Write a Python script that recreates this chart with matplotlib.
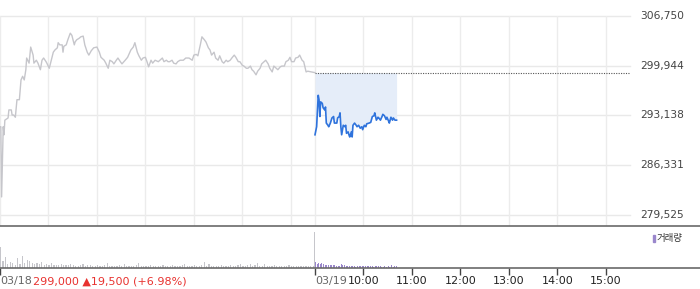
import matplotlib
matplotlib.use("Agg")
import matplotlib.pyplot as plt
from matplotlib.lines import Line2D
import numpy as np

plt.rcParams["font.family"] = ["DejaVu Sans", "Noto Sans CJK KR"]

# price data: minutes since 03/18 09:00 (day 2 starts at 390)
d1_min = [0, 1, 2, 4, 5, 6, 10, 11, 14, 15, 17, 19, 21, 24, 26, 28, 30, 32, 33, 36,
          38, 41, 42, 45, 47, 50, 52, 54, 57, 58, 61, 63, 66, 68, 71, 72, 74, 77, 78, 79,
          82, 84, 87, 89, 92, 93, 95, 98, 100, 103, 105, 108, 110, 113, 116, 120, 123, 125, 129, 131,
          134, 136, 139, 141, 144, 146, 149, 151, 155, 158, 162, 165, 167, 170, 172, 175, 177, 180, 182, 184,
          187, 189, 192, 196, 198, 201, 203, 206, 208, 210, 213, 215, 218, 220, 223, 227, 230, 234, 238, 240,
          243, 245, 248, 250, 253, 255, 258, 260, 262, 265, 267, 270, 272, 275, 277, 280, 282, 285, 287, 290,
          292, 295, 297, 300, 302, 305, 307, 310, 312, 314, 317, 319, 322, 324, 327, 329, 332, 334, 337, 339,
          342, 344, 347, 349, 352, 354, 357, 359, 361, 364, 366, 369, 371, 374, 376, 379, 381, 390]
d1_price = [291600, 291600, 282000, 291600, 290500, 292500, 292800, 293900, 293900, 293200,
            293200, 292900, 295300, 295300, 298000, 298500, 298000, 299400, 301000, 300300,
            302500, 301400, 300300, 300700, 300300, 299400, 300700, 301000, 300500, 300300,
            299600, 300500, 301800, 302100, 302400, 303100, 302800, 302800, 301800, 302600,
            302800, 303500, 304400, 304100, 302800, 303200, 303500, 303700, 303900, 304000,
            302800, 301800, 301400, 302000, 302400, 302500, 301800, 301100, 300700, 300300,
            299600, 300700, 300500, 300200, 300700, 301000, 300500, 300200, 300700, 301100,
            302100, 302500, 303100, 301800, 301300, 300700, 301000, 301100, 300500, 299800,
            300700, 300300, 300700, 300500, 300700, 301000, 300500, 300700, 300500, 300500,
            300700, 300300, 300200, 300500, 300700, 300700, 301000, 301000, 300700, 301400,
            301500, 301300, 302800, 303900, 303500, 303200, 302400, 302100, 301400, 301800,
            301000, 300700, 301300, 300500, 300300, 300700, 300500, 300700, 301000, 301400,
            301100, 300500, 300500, 300000, 299900, 299600, 299600, 299900, 299400, 299200,
            298700, 299200, 299600, 300200, 300500, 300700, 300200, 299600, 299100, 299900,
            299600, 299400, 299800, 299900, 299900, 300500, 300700, 301100, 300500, 300500,
            301000, 301100, 301400, 300700, 300500, 299100, 299200, 299000]

d2_min = [390, 392, 394, 395, 396, 397, 399, 400, 402, 403, 404, 406, 407, 409, 411, 413, 414, 416, 417, 418,
          420, 421, 422, 423, 425, 427, 428, 429, 431, 432, 433, 435, 436, 437, 439, 441, 442, 444, 446, 448,
          449, 451, 453, 454, 457, 459, 461, 463, 464, 466, 468, 469, 471, 473, 474, 476, 478, 479, 481, 482,
          484, 486, 487, 489, 491]
d2_price = [290500, 291600, 295900, 295300, 293000, 295000, 294800, 294200, 293900, 294300,
            292100, 291800, 291600, 292100, 292800, 293000, 292100, 292100, 292100, 292800,
            293000, 293500, 291600, 290500, 291800, 291600, 291800, 290700, 290900, 290500,
            290200, 290900, 290200, 291800, 292100, 291800, 291600, 291800, 291400, 291600,
            291200, 291800, 291600, 292000, 292100, 292200, 293000, 293100, 293500, 292500,
            292900, 292800, 292500, 293000, 293300, 293100, 292600, 292900, 292400, 292100,
            292900, 292500, 292800, 292500, 292500]

prev_close = 299000
y_ticks = [279525, 286331, 293138, 299944, 306750]

# volume, 3-minute slots on day 1, 2-minute slots on day 2
vol1 = [50, 17, 26, 10, 14, 12, 8, 24, 10, 29,
        12, 20, 17, 12, 10, 12, 10, 14, 7, 10,
        8, 12, 7, 6, 7, 10, 6, 7, 6, 10,
        6, 5, 5, 6, 10, 5, 6, 7, 5, 5,
        6, 5, 5, 7, 12, 5, 4, 5, 4, 6,
        5, 10, 4, 5, 5, 4, 6, 12, 5, 4,
        5, 5, 6, 4, 5, 5, 4, 6, 5, 4,
        5, 7, 4, 5, 5, 6, 10, 5, 4, 5,
        6, 4, 5, 6, 14, 5, 10, 4, 5, 5,
        4, 6, 5, 4, 5, 8, 5, 4, 6, 9,
        5, 4, 6, 9, 5, 6, 12, 5, 4, 9,
        5, 5, 4, 6, 5, 4, 5, 5, 4, 6,
        5, 4, 5, 4, 5, 4, 4, 5, 4, 5]
vol1_close = 86
vol2 = [14, 10, 12, 10, 11, 10, 8, 7, 7, 6,
        7, 6, 6, 5, 5, 5, 10, 6, 6, 5,
        5, 4, 5, 5, 4, 3, 4, 5, 5, 4,
        5, 4, 5, 4, 5, 4, 3, 5, 4, 5,
        4, 3, 3, 4, 3, 4, 3, 7, 3, 4, 5]

tick_pos = [0, 390, 450, 510, 570, 630, 690, 750]
tick_labels = ["03/18", "03/19", "10:00", "11:00", "12:00", "13:00", "14:00", "15:00"]
grid_x = [0, 60, 120, 180, 240, 300, 360, 390, 450, 510, 570, 630, 690, 750]

W, H = 700, 289
fig = plt.figure(figsize=(7, 2.89), dpi=100)

ax = fig.add_axes([0, (H - 226) / H, 630 / W, (226 - 16) / H])
ax.set_xlim(0, 780)
ax.set_ylim(278020, 306750)
for s in ax.spines.values():
    s.set_visible(False)
ax.set_xticks([])
ax.set_yticks([])

for y in y_ticks:
    ax.axhline(y, color="#e9e9e9", lw=1, clip_on=False, zorder=0)
    ax.text(1.016, y, f"{y:,}", transform=ax.get_yaxis_transform(),
            ha="left", va="center", fontsize=7.7, color="#444444")
for x in grid_x:
    ax.axvline(x, color="#ececec", lw=1, zorder=0)

ax.fill_between(d2_min, d2_price, prev_close, color="#e5edf9", lw=0, zorder=1)
ax.plot([390, 780], [prev_close, prev_close], color="#555555", lw=0.8,
        linestyle=(0, (1, 1.2)), zorder=2)
ax.plot(d1_min, d1_price, color="#c6c6cb", lw=1.0, zorder=3)
ax.plot(d2_min, d2_price, color="#2f73dc", lw=1.2, zorder=4)

# volume panel
axv = fig.add_axes([0, (H - 268) / H, 630 / W, (268 - 226) / H])
axv.set_xlim(0, 780)
axv.set_ylim(0, 100)
for s in axv.spines.values():
    s.set_visible(False)
axv.set_yticks([])

x1 = np.arange(len(vol1)) * 3
x2 = 390 + np.arange(len(vol2)) * 2
axv.bar(x1, vol1, width=1.5, align="edge", color="#c6c6cb", lw=0)
axv.bar(389, vol1_close, width=1.2, align="edge", color="#c6c6cb", lw=0)
axv.bar(x2, vol2, width=1.2, align="edge", color="#9a87cc", lw=0)

axv.set_xticks(tick_pos)
axv.set_xticklabels(tick_labels, fontsize=8)
axv.tick_params(axis="x", length=5, width=1, color="#444444", pad=1)
for i, lab in enumerate(axv.get_xticklabels()):
    if i < 2:
        lab.set_horizontalalignment("left")
        lab.set_color("#666666")
    else:
        lab.set_color("#222222")

fig.text(33 / W, 1 - 281 / H, "299,000 \u25b219,500 (+6.98%)", ha="left", va="center",
         fontsize=8, color="#e8322f")

# legend
fig.patches.append(plt.Rectangle((652.5 / W, 1 - 242 / H), 2.5 / W, 7.5 / H,
                                 transform=fig.transFigure, color="#9a87cc"))
fig.text(657 / W, 1 - 238.5 / H, "거래량", ha="left", va="center", fontsize=6.8,
         color="#333333", family=["Noto Sans CJK KR", "DejaVu Sans"])

# full-width separators
fig.add_artist(Line2D([0, 1], [1 - 226 / H, 1 - 226 / H], color="#6a6a6a", lw=1.2,
                      transform=fig.transFigure))
fig.add_artist(Line2D([0, 1], [1 - 268 / H, 1 - 268 / H], color="#6a6a6a", lw=1.2,
                      transform=fig.transFigure))

fig.savefig("out.png", dpi=100, facecolor="white")
